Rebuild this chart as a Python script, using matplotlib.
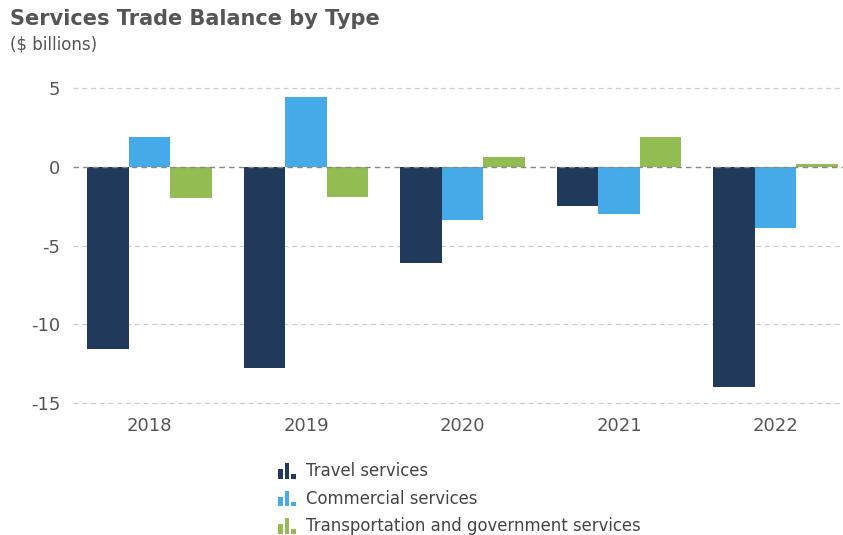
import matplotlib
matplotlib.use("Agg")
import matplotlib.pyplot as plt
import numpy as np
from matplotlib.legend_handler import HandlerBase
from matplotlib.patches import Rectangle

plt.rcParams["font.family"] = ["DejaVu Sans"]
plt.rcParams["axes.unicode_minus"] = False

years = ["2018", "2019", "2020", "2021", "2022"]
travel = [-11.6, -12.8, -6.1, -2.5, -14.0]
commercial = [1.9, 4.4, -3.35, -3.0, -3.9]
transport_gov = [-2.0, -1.95, 0.6, 1.9, 0.15]
series_names = ["Travel services", "Commercial services",
                "Transportation and government services"]
colors = ["#213a5c", "#45aae8", "#93bd52"]


class BarIcon(HandlerBase):
    # little "ıl." bar glyph like the original legend
    def create_artists(self, legend, orig, xd, yd, w, h, fontsize, trans):
        c = orig.get_facecolor()
        bw = w * 0.22
        out = []
        for i, frac in enumerate([0.6, 1.0, 0.3]):
            r = Rectangle((xd + i * bw * 1.4, yd - h * 0.2), bw, h * 1.35 * frac,
                          facecolor=c, edgecolor="none", transform=trans)
            out.append(r)
        return out


fig = plt.figure(figsize=(8.43, 5.35), dpi=100)
ax = fig.add_axes([0.0866, 0.2467, 0.9134, 0.5888])

x = np.arange(len(years))
bw = 0.265
handles = []
for i, (vals, col) in enumerate(zip([travel, commercial, transport_gov], colors)):
    b = ax.bar(x + (i - 1) * bw, vals, bw, color=col, edgecolor="none", zorder=3)
    handles.append(b.patches[0])

ax.set_xlim(-0.49, 4.43)
ax.set_ylim(-15, 5)
ax.set_yticks([5, 0, -5, -10, -15])
ax.set_xticks(x)
ax.set_xticklabels(years)
for y in [5, -5, -10, -15]:
    ax.axhline(y, color="#cccccc", lw=0.9, ls=(0, (4, 3)), zorder=1, clip_on=False)
ax.axhline(0, color="#888888", lw=1.0, ls=(0, (4, 3)), zorder=4)

for s in ax.spines.values():
    s.set_visible(False)
ax.tick_params(length=0, colors="#555555", labelsize=13)
ax.tick_params(axis="y", pad=9)
ax.tick_params(axis="x", pad=10)

fig.text(0.012, 0.965, "Services Trade Balance by Type", fontsize=15,
         fontweight="bold", color="#555555", va="center")
fig.text(0.012, 0.916, "($ billions)", fontsize=12, color="#555555", va="center")

fig.legend(handles, series_names, loc="upper left", bbox_to_anchor=(0.322, 0.148),
           frameon=False, fontsize=11.9, handler_map={Rectangle: BarIcon()},
           handlelength=1.3, handletextpad=0.4, labelspacing=0.575,
           labelcolor="#444444", borderaxespad=0)

fig.savefig("out.png", dpi=100)
